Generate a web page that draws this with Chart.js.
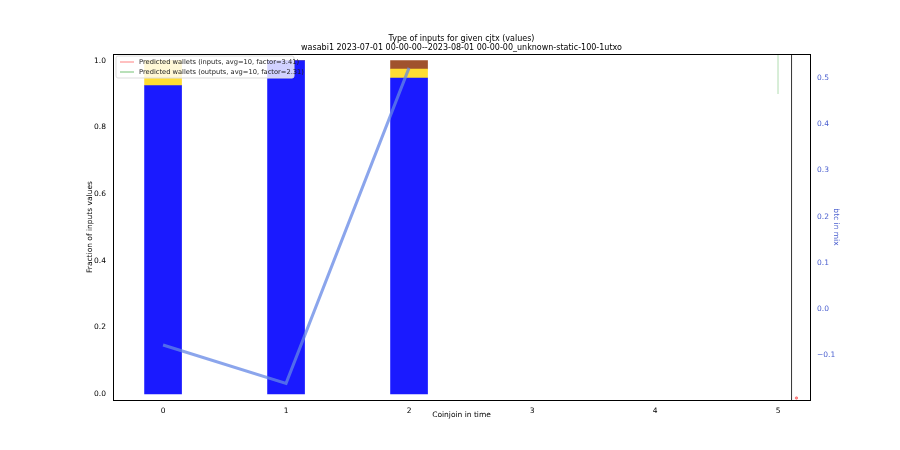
<!DOCTYPE html>
<html>
<head>
<meta charset="utf-8">
<script src="https://cdn.jsdelivr.net/npm/chart.js@4"></script>
<style>
  body { margin: 0; background: #fff; }
  #wrap { width: 900px; height: 450px; }
</style>
</head>
<body>
<div id="wrap"><canvas id="chart"></canvas></div>
<script>
// coinjoin index and stacked fractions of input values
const positions = [0, 1, 2];
const fracBlue = [0.925, 1.0, 0.948];
const fracYellow = [0.075, 0.0, 0.027];
const fracBrown = [0.0, 0.0, 0.025];
const btcInMix = [-0.078, -0.161, 0.522];

const titleLines = [
    'Type of inputs for given cjtx (values)',
    'wasabi1 2023-07-01 00-00-00--2023-08-01 00-00-00_unknown-static-100-1utxo'
];
const legendItems = [
    { text: 'Predicted wallets (inputs, avg=10, factor=3.41)', color: 'rgba(255,80,80,0.6)' },
    { text: 'Predicted wallets (outputs, avg=10, factor=2.31)', color: 'rgba(60,170,60,0.6)' }
];

function floating(base, add) {
    return positions.map((x, i) => ({ x: x, y: [base[i], base[i] + add[i]] }));
}
const zeros = positions.map(() => 0);
const top1 = fracBlue.map((v, i) => v + fracYellow[i]);
const F = 'DejaVu Sans';

const decor = {
    id: 'decor',
    afterDraw(chart) {
        const { ctx, chartArea: a } = chart;
        ctx.save();
        ctx.fillStyle = '#000';
        ctx.font = '8px "' + F + '"';
        ctx.textAlign = 'center';
        ctx.textBaseline = 'middle';
        const cx = (a.left + a.right) / 2;
        ctx.fillText(titleLines[0], cx, 39);
        ctx.fillText(titleLines[1], cx, 48);
        // frame
        ctx.strokeStyle = '#000';
        ctx.lineWidth = 1;
        ctx.strokeRect(a.left + 0.5, a.top + 0.5, a.right - a.left, a.bottom - a.top);
        // legend
        ctx.font = '6.7px "' + F + '"';
        ctx.textAlign = 'left';
        const lx = a.left + 3, ly = a.top + 2;
        ctx.fillStyle = 'rgba(255,255,255,0.8)';
        ctx.strokeStyle = '#ddd';
        ctx.beginPath();
        ctx.roundRect(lx, ly, 178, 22, 2);
        ctx.fill();
        ctx.stroke();
        legendItems.forEach((it, i) => {
            const y = ly + 6 + i * 10;
            ctx.strokeStyle = it.color;
            ctx.lineWidth = 1.2;
            ctx.beginPath();
            ctx.moveTo(lx + 4, y);
            ctx.lineTo(lx + 18, y);
            ctx.stroke();
            ctx.fillStyle = '#222';
            ctx.fillText(it.text, lx + 23, y);
        });
        ctx.restore();
    }
};

const barOpts = { grouped: false, barThickness: 37, order: 3 };

new Chart(document.getElementById('chart'), {
    type: 'bar',
    data: {
        datasets: [
            Object.assign({ data: floating(zeros, fracBlue), backgroundColor: 'rgb(26,26,255)' }, barOpts),
            Object.assign({ data: floating(fracBlue, fracYellow), backgroundColor: 'rgb(255,221,51)' }, barOpts),
            Object.assign({ data: floating(top1, fracBrown), backgroundColor: 'rgb(160,82,45)' }, barOpts),
            { type: 'line', yAxisID: 'y2', data: positions.map((x, i) => ({ x: x, y: btcInMix[i] })),
              borderColor: 'rgba(100,135,230,0.75)', borderWidth: 3, pointRadius: 0, order: 1 },
            { type: 'line', data: [{ x: 5, y: 0.9 }, { x: 5, y: 1.03 }],
              borderColor: 'rgba(60,170,60,0.4)', borderWidth: 1, pointRadius: 0, order: 2 },
            { type: 'line', data: [{ x: 5.11, y: -0.1 }, { x: 5.11, y: 1.1 }],
              borderColor: 'rgba(0,0,0,0.8)', borderWidth: 1, pointRadius: 0, order: 2 },
            { type: 'line', data: [{ x: 5.15, y: -0.012 }],
              borderColor: 'rgba(255,80,80,0.6)', backgroundColor: 'rgba(255,80,80,0.6)', showLine: false, pointRadius: 1.2, order: 2 }
        ]
    },
    options: {
        responsive: true,
        maintainAspectRatio: false,
        animation: false,
        layout: { padding: { top: 54, right: 60, left: 86, bottom: 26 } },
        plugins: { legend: { display: false }, title: { display: false }, tooltip: { enabled: false } },
        scales: {
            x: {
                type: 'linear', min: -0.407, max: 5.26, offset: false,
                grid: { display: false, drawTicks: true, tickLength: 4 },
                border: { color: '#000' },
                ticks: { stepSize: 1, color: '#000', font: { size: 7.5, family: F },
                         callback: v => Number.isInteger(v) ? v : '' },
                title: { display: true, text: 'Coinjoin in time', color: '#000', font: { size: 7.5, family: F }, padding: { top: 2 } },
                afterFit: s => { s.height = 24; }
            },
            y: {
                min: -0.018, max: 1.02,
                grid: { display: false, tickLength: 4 },
                border: { color: '#000' },
                ticks: { color: '#000', font: { size: 7.5, family: F }, callback: v => v.toFixed(1) },
                afterBuildTicks: s => { s.ticks = [0, 0.2, 0.4, 0.6, 0.8, 1.0].map(v => ({ value: v })); },
                title: { display: true, text: 'Fraction of inputs values', color: '#000', font: { size: 7.5, family: F }, padding: 0 },
                afterFit: s => { s.width = 27; }
            },
            y2: {
                position: 'right', min: -0.197, max: 0.552,
                grid: { display: false, tickLength: 4, color: '#4a5fcf' },
                border: { color: '#999' },
                ticks: { color: '#4a5fcf', font: { size: 7.5, family: F },
                         callback: v => v < 0 ? '\u2212' + Math.abs(v).toFixed(1) : v.toFixed(1) },
                afterBuildTicks: s => { s.ticks = [-0.1, 0, 0.1, 0.2, 0.3, 0.4, 0.5].map(v => ({ value: v })); },
                title: { display: true, text: 'btc in mix', color: '#4a5fcf', font: { size: 7.5, family: F }, padding: 0 },
                afterFit: s => { s.width = 30; }
            }
        }
    },
    plugins: [decor]
});
</script>
</body>
</html>
